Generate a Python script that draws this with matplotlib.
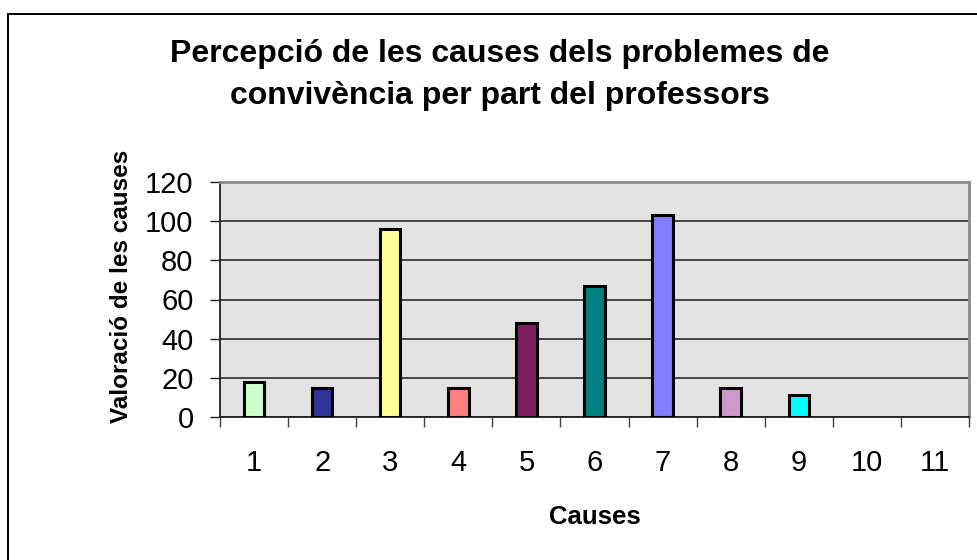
import matplotlib
matplotlib.use("Agg")
import matplotlib.pyplot as plt
from matplotlib.patches import Rectangle
import numpy as np

plt.rcParams['font.family'] = ['Liberation Sans', 'DejaVu Sans']

# data
causes = np.arange(1, 12)
values = [18, 15, 96, 15, 48, 67, 103, 15, 11, 0, 0]
colors = ['#CCFFCC', '#333399', '#FFFF99', '#FF8080', '#801F5F', '#008080',
          '#8080FF', '#CC99CC', '#00FFFF', '#CCFFCC', '#333399']
y_ticks = [0, 20, 40, 60, 80, 100, 120]

title = "Percepció de les causes dels problemes de\nconvivència per part del professors"
xlabel = "Causes"
ylabel = "Valoració de les causes"

fig = plt.figure(figsize=(9.77, 5.6), dpi=100)
ax = fig.add_axes([220/977, 1 - 417/560, 749/977, 235/560])

# outer chart frame (runs off the right and bottom edges)
fig.patches.append(Rectangle((8/977, -0.1), 1.2, 1.1 - 14/560,
                             transform=fig.transFigure, fill=False,
                             edgecolor='black', linewidth=1.4))

ax.set_facecolor('#E3E3E3')
# zero-height bars get no outline, as in the original
edge_w = [2.2 if v > 0 else 0 for v in values]
ax.bar(causes, values, width=0.3, color=colors, edgecolor='black',
       linewidth=edge_w, zorder=3)

ax.set_xlim(0.5, 11.5)
ax.set_ylim(0, 120)
ax.set_yticks(y_ticks)
ax.yaxis.grid(True, color='#3a3a3a', linewidth=1.3, zorder=1)
ax.set_axisbelow(True)

ax.set_xticks(causes)
ax.set_xticklabels([str(c) for c in causes])
ax.set_xticks(np.arange(0.5, 12, 1), minor=True)
ax.tick_params(axis='x', which='major', length=0, pad=23, labelsize=21)
ax.tick_params(axis='x', which='minor', length=7, width=1, direction='out',
               color='#404040')
ax.tick_params(axis='y', length=7, width=1, direction='out', pad=12,
               labelsize=21, color='#202020')

for s in ['top', 'right']:
    ax.spines[s].set_color('#8a8a8a')
    ax.spines[s].set_linewidth(2)
for s in ['left', 'bottom']:
    ax.spines[s].set_color('#202020')
    ax.spines[s].set_linewidth(1.3)

ax.set_xlabel(xlabel, fontsize=18.5, fontweight='bold', labelpad=20)
ax.set_ylabel(ylabel, fontsize=17.5, fontweight='bold', labelpad=9, y=0.557)

fig.text(500/977, 1 - 75/560, title, ha='center', va='center',
         fontsize=23, fontweight='bold', linespacing=1.55)

fig.savefig('out.png', dpi=100)
